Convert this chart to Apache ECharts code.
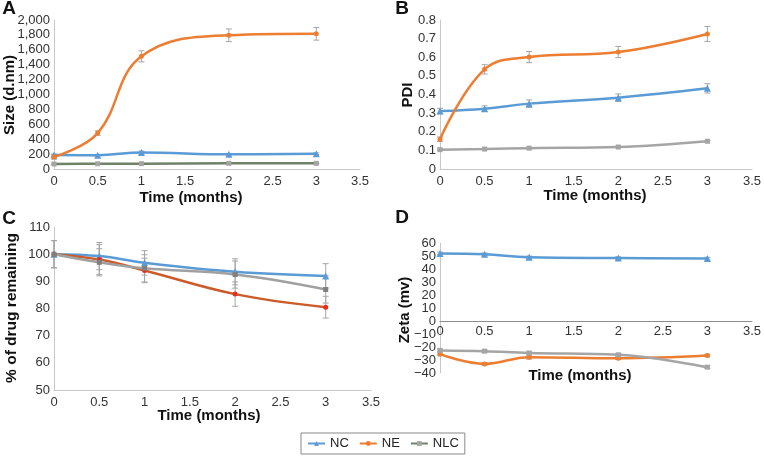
<!DOCTYPE html>
<html>
<head>
<meta charset="utf-8">
<script src="https://cdn.jsdelivr.net/npm/echarts@6/dist/echarts.min.js"></script>
<style>html,body{margin:0;padding:0;background:#fff}#c{width:764px;height:456px}</style>
</head>
<body>
<div id="c"></div>
<script>
// ---- data ----
var months = [0, 0.5, 1, 2, 3];
var seriesNames = ['NC', 'NE', 'NLC'];
var xTicks = [0, 0.5, 1, 1.5, 2, 2.5, 3, 3.5];

// A: Size (d.nm)
var sizeNC  = [188, 185, 222, 197, 205];
var sizeNE  = [162, 482, 1512, 1795, 1815];
var sizeNLC = [67, 70, 72, 76, 76];
var sizeErrNC  = [12, 10, 20, 12, 12];
var sizeErrNE  = [30, 30, 75, 85, 85];
var sizeErrNLC = [5, 5, 5, 5, 5];

// B: PDI
var pdiNC  = [0.311, 0.324, 0.351, 0.383, 0.433];
var pdiNE  = [0.160, 0.535, 0.601, 0.628, 0.725];
var pdiNLC = [0.104, 0.107, 0.112, 0.118, 0.149];
var pdiErrNC  = [0.015, 0.015, 0.02, 0.02, 0.025];
var pdiErrNE  = [0.012, 0.025, 0.03, 0.03, 0.04];
var pdiErrNLC = [0.004, 0.004, 0.004, 0.004, 0.004];

// C: % of drug remaining
var drugNC  = [100, 99.3, 96.8, 93.5, 92];
var drugNE  = [100, 98, 94, 85.3, 80.5];
var drugNLC = [100, 97, 94.8, 92.5, 87];
var drugErrNC  = [5, 5, 4.5, 4.8, 4.5];
var drugErrNE  = [5, 5.5, 4.5, 4.5, 4];
var drugErrNLC = [5, 5, 5, 5, 5];

// D: Zeta (mv)
var zetaNC  = [52, 51.3, 49, 48.4, 48];
var zetaNE  = [-25.5, -33, -27.8, -28.6, -26.5];
var zetaNLC = [-22.6, -23.2, -24.6, -26, -35.5];
var zetaErrNC  = [1, 1, 1, 1, 1];
var zetaErrNE  = [1, 1, 1.5, 1, 1];
var zetaErrNLC = [1, 1, 1, 1, 1];

// ---- styles ----
var cBlue = '#5b9bd5', cOrange = '#ed7d31', cGray = '#a5a5a5';
var FONT = '"Liberation Sans", Arial, sans-serif';

function pairs(vals) { return months.map(function (m, i) { return [m, vals[i]]; }); }
function errData(list) {
  var out = [];
  list.forEach(function (p) {
    months.forEach(function (m, i) { out.push([m, p[0][i], p[1][i]]); });
  });
  return out;
}
function errSeries(idx, list) {
  return {
    type: 'custom', xAxisIndex: idx, yAxisIndex: idx, z: 1, silent: true,
    data: errData(list), encode: { x: 0, y: 1 },
    renderItem: function (params, api) {
      var x = api.value(0), y = api.value(1), e = api.value(2);
      var hi = api.coord([x, y + e]), lo = api.coord([x, y - e]);
      var w = 3, st = { stroke: '#a6a6a6', lineWidth: 1 };
      return { type: 'group', children: [
        { type: 'line', shape: { x1: hi[0], y1: hi[1], x2: lo[0], y2: lo[1] }, style: st },
        { type: 'line', shape: { x1: hi[0] - w, y1: hi[1], x2: hi[0] + w, y2: hi[1] }, style: st },
        { type: 'line', shape: { x1: lo[0] - w, y1: lo[1], x2: lo[0] + w, y2: lo[1] }, style: st }
      ]};
    }
  };
}
function lineSeries(idx, name, vals, color, symbol, lineColor, markColor) {
  return {
    type: 'line', name: name, xAxisIndex: idx, yAxisIndex: idx, z: 3,
    data: pairs(vals), smooth: 0.4, symbol: symbol,
    symbolSize: symbol === 'triangle' ? 7 : 5,
    lineStyle: { color: lineColor || color, width: 2.5 },
    itemStyle: { color: markColor || color },
    color: color
  };
}
function xAxis(idx, lineColor, margin) {
  return {
    type: 'value', gridIndex: idx, min: 0, max: 3.5, interval: 0.5,
    splitLine: { show: false }, axisTick: { show: false },
    axisLine: { show: true, onZero: true, lineStyle: { color: lineColor || '#c8c8c8', width: 1 } },
    axisLabel: { color: '#333', fontSize: 13, fontFamily: FONT, margin: margin == null ? 6 : margin,
      formatter: function (v) { return xTicks.indexOf(v) >= 0 ? String(v) : ''; } }
  };
}
function yAxis(idx, min, max, interval, fmt) {
  return {
    type: 'value', gridIndex: idx, min: min, max: max, interval: interval,
    splitLine: { show: false }, axisTick: { show: false },
    axisLine: { show: true, onZero: false, lineStyle: { color: '#c8c8c8', width: 1 } },
    axisLabel: { color: '#333', fontSize: 13, fontFamily: FONT, margin: 4, formatter: fmt }
  };
}
function txt(x, y, s, size, rot) {
  return { type: 'text', x: x, y: y, rotation: rot || 0,
    style: { text: s, font: 'bold ' + size + 'px ' + FONT, fill: '#111', align: 'center', verticalAlign: 'middle' } };
}

var chart = echarts.init(document.getElementById('c'), null, { renderer: 'canvas' });
chart.setOption({
  animation: false,
  backgroundColor: '#fff',
  grid: [
    { left: 54, top: 20, width: 306, height: 149 },
    { left: 440, top: 20, width: 316, height: 149 },
    { left: 54, top: 227, width: 317, height: 163 },
    { left: 440, top: 243, width: 316, height: 130 }
  ],
  xAxis: [xAxis(0), xAxis(1), xAxis(2), xAxis(3, '#8c8c8c', -48)],
  yAxis: [
    yAxis(0, 0, 2000, 200, function (v) { return String(v).replace(/\B(?=(\d{3})+(?!\d))/g, ','); }),
    yAxis(1, 0, 0.8, 0.1, function (v) { return String(Math.round(v * 10) / 10); }),
    yAxis(2, 50, 110, 10),
    yAxis(3, -40, 60, 10, function (v) { return String(v).replace('-', '\u2212'); })
  ],
  legend: {
    data: seriesNames, left: 301, top: 433, orient: 'horizontal',
    borderColor: '#888', borderWidth: 1, padding: [4, 6, 4, 6],
    itemWidth: 17, itemHeight: 6, itemGap: 10,
    textStyle: { fontSize: 13, fontFamily: FONT, color: '#222' }
  },
  graphic: [
    txt(9, 9, 'A', 19), txt(402, 9, 'B', 19), txt(9, 219, 'C', 19), txt(402, 218, 'D', 19),
    txt(191, 198, 'Time (months)', 15), txt(595, 196, 'Time (months)', 15),
    txt(209, 416, 'Time (months)', 15), txt(580, 376, 'Time (months)', 15),
    txt(10, 95, 'Size (d.nm)', 15, Math.PI / 2), txt(408, 95, 'PDI', 15, Math.PI / 2),
    txt(12, 308, '% of drug remaining', 15.5, Math.PI / 2), txt(405, 310, 'Zeta (mv)', 15, Math.PI / 2)
  ],
  series: [
    errSeries(0, [[sizeNC, sizeErrNC], [sizeNE, sizeErrNE], [sizeNLC, sizeErrNLC]]),
    lineSeries(0, 'NC', sizeNC, cBlue, 'triangle'),
    lineSeries(0, 'NE', sizeNE, cOrange, 'circle'),
    lineSeries(0, 'NLC', sizeNLC, cGray, 'rect', '#6f8266'),
    errSeries(1, [[pdiNC, pdiErrNC], [pdiNE, pdiErrNE], [pdiNLC, pdiErrNLC]]),
    lineSeries(1, 'NC', pdiNC, cBlue, 'triangle'),
    lineSeries(1, 'NE', pdiNE, cOrange, 'circle'),
    lineSeries(1, 'NLC', pdiNLC, cGray, 'rect'),
    errSeries(2, [[drugNC, drugErrNC], [drugNE, drugErrNE], [drugNLC, drugErrNLC]]),
    lineSeries(2, 'NC', drugNC, cBlue, 'triangle'),
    lineSeries(2, 'NE', drugNE, cOrange, 'circle', '#cc5a2a', '#e0301e'),
    lineSeries(2, 'NLC', drugNLC, cGray, 'rect', '#a0a0a0', '#808080'),
    errSeries(3, [[zetaNC, zetaErrNC], [zetaNE, zetaErrNE], [zetaNLC, zetaErrNLC]]),
    lineSeries(3, 'NC', zetaNC, cBlue, 'triangle'),
    lineSeries(3, 'NE', zetaNE, cOrange, 'circle'),
    lineSeries(3, 'NLC', zetaNLC, cGray, 'rect')
  ]
});
</script>
</body>
</html>
